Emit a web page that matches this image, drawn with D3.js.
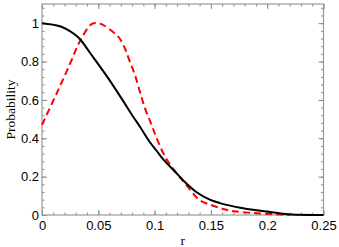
<!DOCTYPE html>
<html>
<head>
<meta charset="utf-8">
<script src="https://cdnjs.cloudflare.com/ajax/libs/d3/7.8.5/d3.min.js"></script>
<style>
body { margin: 0; background: #fff; }
.axis text { font-family: "Liberation Sans", Arial, sans-serif; font-size: 13px; fill: #000; }
.axis line { stroke: #888; }
.label { font-family: "Liberation Serif", "Times New Roman", serif; font-size: 13.5px; fill: #000; }
</style>
</head>
<body>
<script>
// values
var rBlack = [0, 0.016, 0.028, 0.034, 0.0426, 0.0574, 0.072, 0.081, 0.087, 0.096, 0.1018, 0.1077, 0.1196, 0.1255, 0.137, 0.149, 0.158, 0.176, 0.194, 0.211, 0.222, 0.25];
var pBlack = [1.0, 0.984, 0.946, 0.915, 0.846, 0.725, 0.595, 0.512, 0.46, 0.378, 0.335, 0.29, 0.217, 0.18, 0.12, 0.08, 0.062, 0.038, 0.022, 0.009, 0.002, 0.0];

var rRed = [0, 0.013, 0.025, 0.034, 0.044, 0.049, 0.0545, 0.0648, 0.069, 0.0737, 0.078, 0.0826, 0.087, 0.0915, 0.0974, 0.1025, 0.1107, 0.1196, 0.1255, 0.133, 0.140, 0.152, 0.162, 0.17, 0.188, 0.208, 0.22];
var pRed = [0.47, 0.634, 0.79, 0.91, 0.995, 1.0, 0.99, 0.946, 0.92, 0.868, 0.80, 0.729, 0.642, 0.556, 0.469, 0.39, 0.29, 0.217, 0.176, 0.121, 0.078, 0.048, 0.03, 0.02, 0.01, 0.004, 0.0];

var xTicks = [0, 0.05, 0.1, 0.15, 0.2, 0.25];
var yTicks = [0, 0.2, 0.4, 0.6, 0.8, 1];

var W = 339, H = 247;
var margin = {left: 42, top: 4, right: 15.5, bottom: 32};
var w = W - margin.left - margin.right,
	h = H - margin.top - margin.bottom;

var svg = d3.select('body').append('svg')
	.attr('width', W)
	.attr('height', H);

var g = svg.append('g').attr('transform', 'translate(' + margin.left + ',' + margin.top + ')');

var x = d3.scaleLinear().domain([0, 0.25]).range([0, w]);
var y = d3.scaleLinear().domain([0, 1.1]).range([h, 0]);

var fmt = function(d) { return d === 0 ? '0' : String(+d.toFixed(2)); };

//minor ticks, all four sides, pointing in
var xMinor = d3.range(0, 0.2501, 0.01);
var yMinor = d3.range(0, 1.101, 0.04);

function minorAxis(axis, ticks, tx) {
	var gg = g.append('g').attr('class', 'axis').attr('transform', tx || null)
		.call(axis.tickValues(ticks).tickSize(-2.5).tickFormat(''));
	gg.select('.domain').remove();
}
minorAxis(d3.axisBottom(x), xMinor, 'translate(0,' + h + ')');
minorAxis(d3.axisTop(x), xMinor);
minorAxis(d3.axisLeft(y), yMinor);
minorAxis(d3.axisRight(y), yMinor, 'translate(' + w + ',0)');

//major ticks
g.append('g').attr('class', 'axis').attr('transform', 'translate(0,' + h + ')')
	.call(d3.axisBottom(x).tickValues(xTicks).tickSize(-5).tickPadding(6).tickFormat(fmt));
g.append('g').attr('class', 'axis')
	.call(d3.axisLeft(y).tickValues(yTicks).tickSize(-5).tickPadding(3).tickFormat(fmt));
g.append('g').attr('class', 'axis')
	.call(d3.axisTop(x).tickValues(xTicks).tickSize(-5).tickFormat(''));
g.append('g').attr('class', 'axis').attr('transform', 'translate(' + w + ',0)')
	.call(d3.axisRight(y).tickValues(yTicks).tickSize(-5).tickFormat(''));
g.selectAll('.axis .domain').remove();

//frame
g.append('rect')
	.attr('width', w).attr('height', h)
	.attr('fill', 'none')
	.attr('stroke', '#999')
	.attr('stroke-width', 1.2);

var line = d3.line()
	.x(function(d) { return x(d[0]); })
	.y(function(d) { return y(d[1]); })
	.curve(d3.curveCatmullRom.alpha(0.5));

g.append('path')
	.datum(d3.zip(rRed, pRed))
	.attr('d', line)
	.attr('fill', 'none')
	.attr('stroke', '#ff0000')
	.attr('stroke-width', 2)
	.attr('stroke-dasharray', '7,4');

g.append('path')
	.datum(d3.zip(rBlack, pBlack))
	.attr('d', line)
	.attr('fill', 'none')
	.attr('stroke', '#000')
	.attr('stroke-width', 2);

//labels
svg.append('text')
	.attr('class', 'label')
	.attr('text-anchor', 'middle')
	.attr('transform', 'translate(15,' + (margin.top + h / 2) + ') rotate(-90)')
	.text('Probability');

svg.append('text')
	.attr('class', 'label')
	.attr('text-anchor', 'middle')
	.attr('x', margin.left + w / 2)
	.attr('y', 245)
	.text('r');
</script>
</body>
</html>
